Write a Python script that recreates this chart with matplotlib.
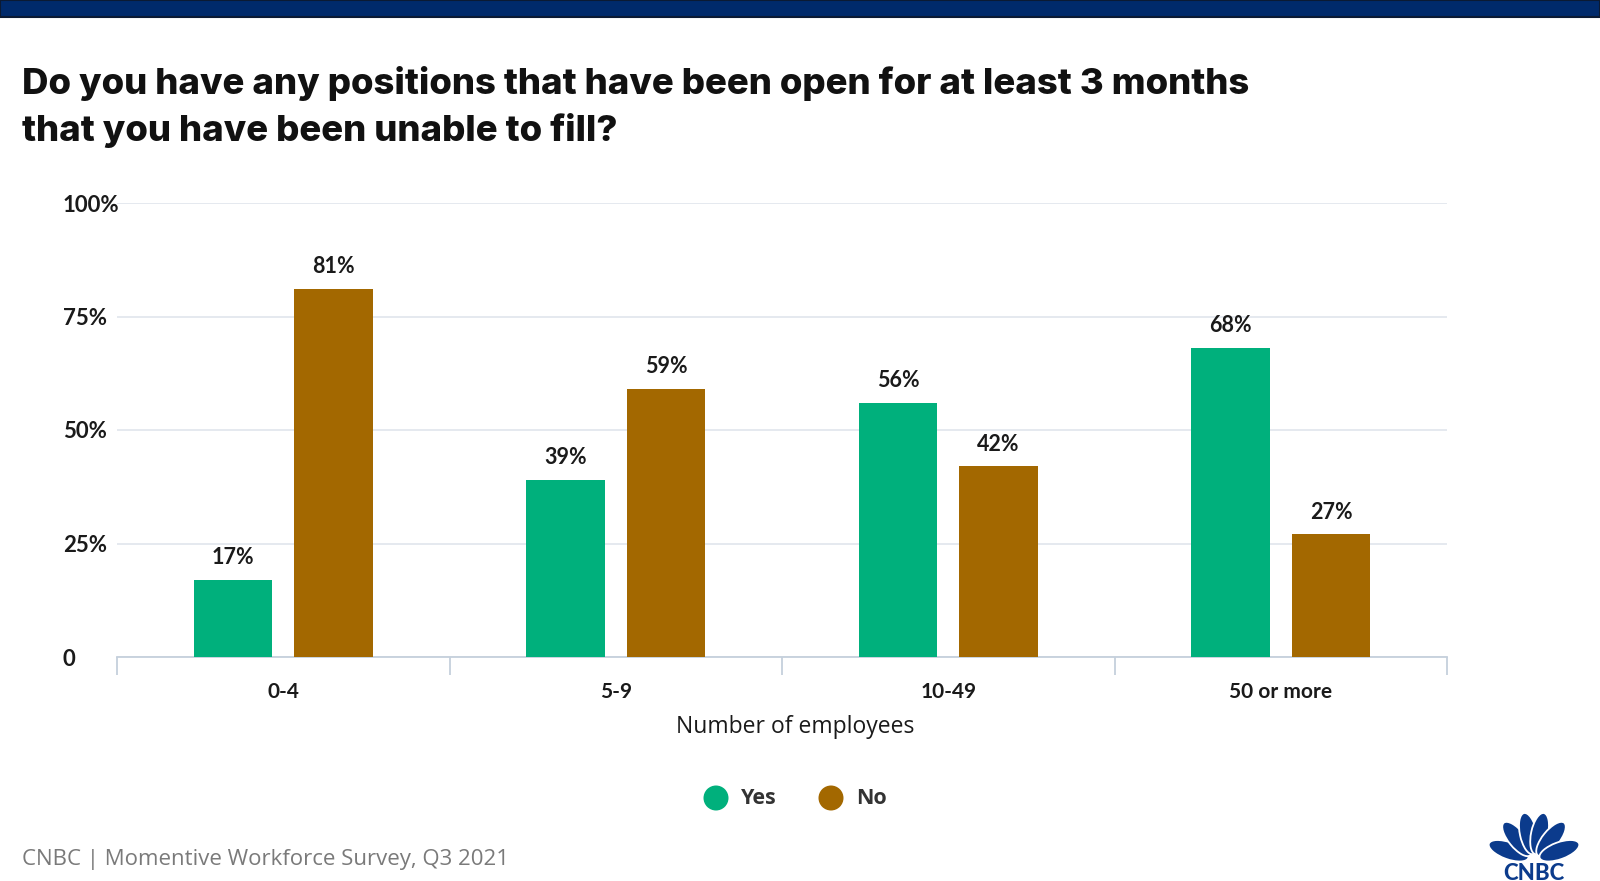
import matplotlib.pyplot as plt
import matplotlib.patches as mpatches
import numpy as np

categories = ['0-4', '5-9', '10-49', '50 or more']
yes_vals = [17, 39, 56, 68]
no_vals = [81, 59, 42, 27]
yticks = [0, 25, 50, 75, 100]
ytick_labels = ['0', '25%', '50%', '75%', '100%']

green = '#00b07c'
brown = '#a36800'
grid_c = '#e3e7ee'
spine_c = '#c5d0dc'
navy = '#0b3b8c'

W, H = 1600, 881
plt.rcParams['font.family'] = ['Lato', 'DejaVu Sans']

fig = plt.figure(figsize=(W / 100, H / 100), dpi=100)
ax = fig.add_axes([117 / W, 1 - 657 / H, (1447 - 117) / W, (657 - 203) / H])

x = np.arange(len(categories))
w = 0.237
off = 0.151
b1 = ax.bar(x - off, yes_vals, w, color=green, zorder=3)
b2 = ax.bar(x + off, no_vals, w, color=brown, zorder=3)

for bars, vals in ((b1, yes_vals), (b2, no_vals)):
    for r, v in zip(bars, vals):
        ax.text(r.get_x() + r.get_width() / 2, v + 2.6, f'{v}%', ha='center', va='bottom',
                fontsize=15.5, fontweight='bold', color='#1a1a1a')

ax.set_xlim(-0.5, len(categories) - 0.5)
ax.set_ylim(0, 100)
ax.set_yticks(yticks)
ax.set_yticklabels(ytick_labels, fontsize=16, fontweight='bold', color='#1a1a1a')
ax.yaxis.grid(True, color=grid_c, linewidth=1.3, zorder=0)
for lab in ax.get_yticklabels():
    lab.set_horizontalalignment('left')
ax.tick_params(axis='y', length=0, pad=39)

ax.set_xticks(np.arange(-0.5, len(categories), 1.0))
ax.set_xticklabels([])
ax.tick_params(axis='x', length=13, color=spine_c, width=1.3, direction='out')
ax.set_xticks(x, minor=True)
ax.set_xticklabels(categories, minor=True, fontsize=15, fontweight='bold', color='#1a1a1a')
ax.tick_params(axis='x', which='minor', length=0, pad=18)

for s in ['top', 'right', 'left']:
    ax.spines[s].set_visible(False)
ax.spines['bottom'].set_color(spine_c)
ax.spines['bottom'].set_linewidth(1.3)

fig.text(795 / W, 1 - 727 / H, 'Number of employees', fontsize=16.5, family=['Open Sans', 'DejaVu Sans'],
         color='#1a1a1a', ha='center', va='center')

# top band
fig.patches.append(mpatches.Rectangle((0, 1 - 17 / H), 1, 17 / H, transform=fig.transFigure,
                                      facecolor='#002a6b', edgecolor='#0b1a33', linewidth=1.5))

fig.text(22 / W, 1 - 66 / H, 'Do you have any positions that have been open for at least 3 months\nthat you have been unable to fill?',
         fontsize=26.3, fontweight='heavy', family=['Inter', 'DejaVu Sans'], color='#111111',
         va='top', ha='left', linespacing=1.42)

# legend
leg_y = 1 - 798 / H
for cx, col, lab in ((716, green, 'Yes'), (831, brown, 'No')):
    fig.patches.append(mpatches.Ellipse((cx / W, leg_y), 25 / W, 25 / H, transform=fig.transFigure,
                                        facecolor=col, edgecolor='none'))
    fig.text((cx + 25) / W, leg_y, lab, fontsize=15.5, fontweight='bold', color='#333333', va='center',
             family=['Open Sans', 'DejaVu Sans'])

fig.text(22 / W, 1 - 860 / H, 'CNBC | Momentive Workforce Survey, Q3 2021', fontsize=16,
         color='#7a7a7a', va='center', ha='left', family=['Open Sans', 'DejaVu Sans'])

# rough CNBC peacock, drawn in pixel units
lx0, ly0 = 1480, 800
lax = fig.add_axes([lx0 / W, 0, (W - lx0) / W, (H - ly0) / H])
lax.set_xlim(0, W - lx0)
lax.set_ylim(0, H - ly0)
lax.axis('off')
bx, by = 1534 - lx0, H - 860
for a in [160, 129, 102, 78, 51, 20]:
    t = np.deg2rad(a)
    lax.add_patch(mpatches.Ellipse((bx + 27 * np.cos(t), by + 27 * np.sin(t)), 42, 17, angle=a,
                                   facecolor=navy, edgecolor='white', linewidth=1.3))
lax.text(bx, 8, 'CNBC', fontsize=16, fontweight='black', color=navy, ha='center', va='center',
         family=['Lato', 'DejaVu Sans'])

fig.savefig('out.png', dpi=100, facecolor='white')
